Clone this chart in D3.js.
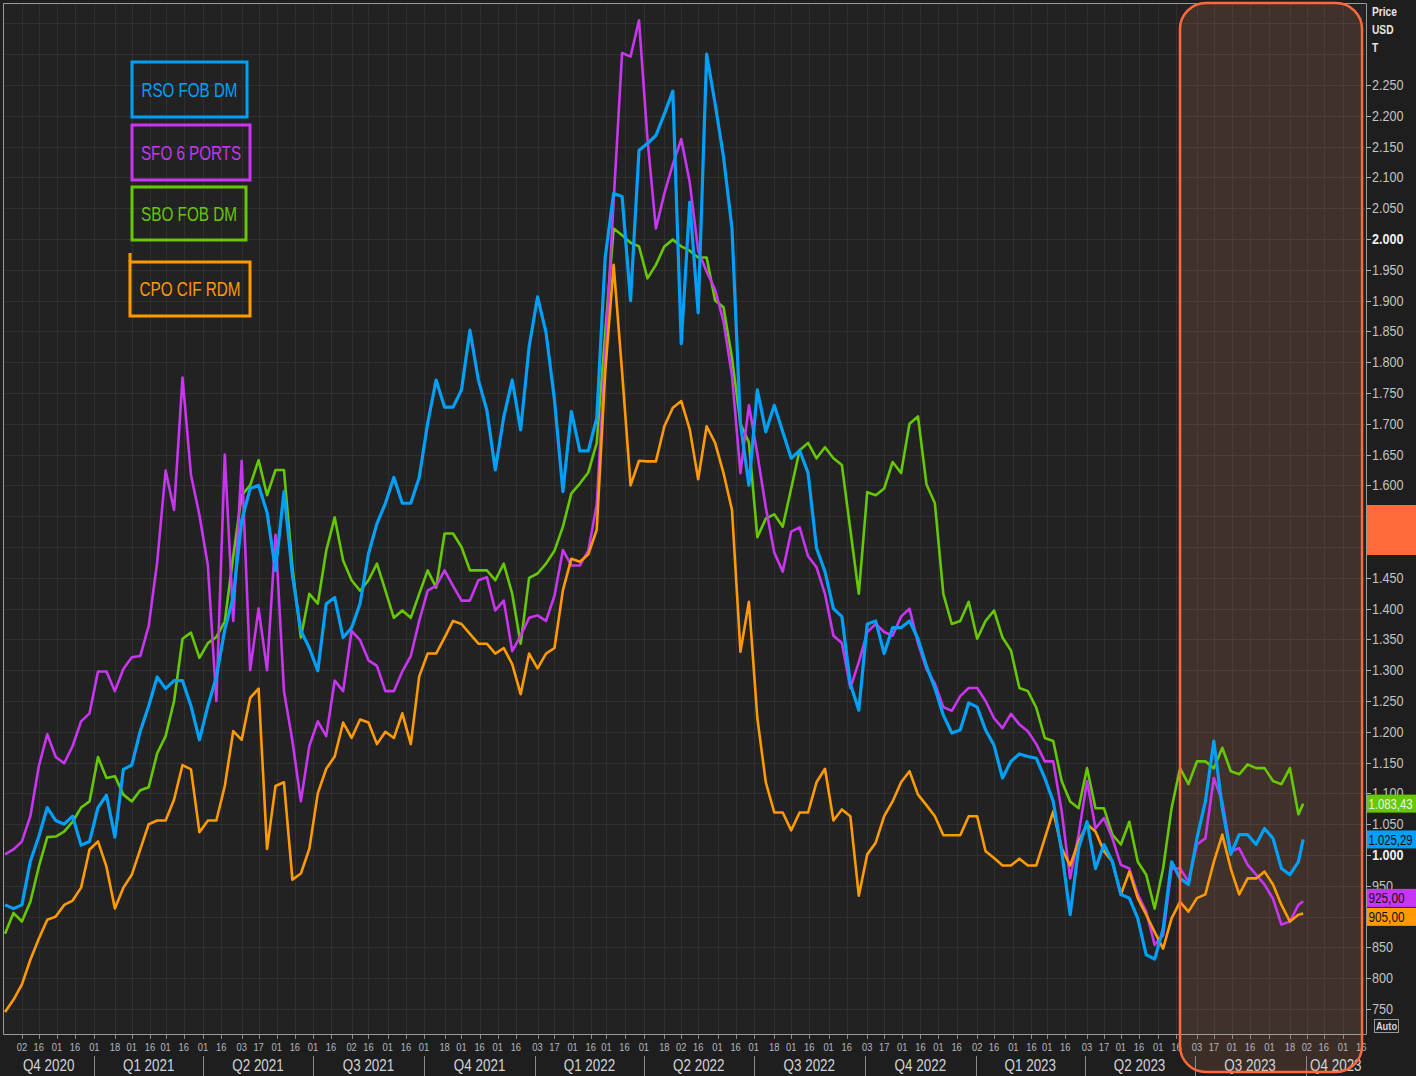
<!DOCTYPE html>
<html>
<head>
<meta charset="utf-8">
<script src="https://cdn.jsdelivr.net/npm/d3@7"></script>
<style>
	body { margin: 0; background: #1e1e1e; }
	svg { display: block; }
	text { font-family: "Liberation Sans", Arial, sans-serif; }
</style>
</head>
<body>
<svg id="chart"></svg>
<script>
// weekly samples (monday), last point is the close of 29 sep 2023
const weeks = [
	'2020-10-19','2020-10-26','2020-11-02','2020-11-09','2020-11-16','2020-11-23','2020-11-30','2020-12-07','2020-12-14','2020-12-21','2020-12-28',
	'2021-01-04','2021-01-11','2021-01-18','2021-01-25','2021-02-01','2021-02-08','2021-02-15','2021-02-22','2021-03-01','2021-03-08','2021-03-15','2021-03-22','2021-03-29',
	'2021-04-05','2021-04-12','2021-04-19','2021-04-26','2021-05-03','2021-05-10','2021-05-17','2021-05-24','2021-05-31','2021-06-07','2021-06-14','2021-06-21','2021-06-28',
	'2021-07-05','2021-07-12','2021-07-19','2021-07-26','2021-08-02','2021-08-09','2021-08-16','2021-08-23','2021-08-30','2021-09-06','2021-09-13','2021-09-20','2021-09-27',
	'2021-10-04','2021-10-11','2021-10-18','2021-10-25','2021-11-01','2021-11-08','2021-11-15','2021-11-22','2021-11-29','2021-12-06','2021-12-13','2021-12-20','2021-12-27',
	'2022-01-03','2022-01-10','2022-01-17','2022-01-24','2022-01-31','2022-02-07','2022-02-14','2022-02-21','2022-02-28','2022-03-07','2022-03-14','2022-03-21','2022-03-28',
	'2022-04-04','2022-04-11','2022-04-18','2022-04-25','2022-05-02','2022-05-09','2022-05-16','2022-05-23','2022-05-30','2022-06-06','2022-06-13','2022-06-20','2022-06-27',
	'2022-07-04','2022-07-11','2022-07-18','2022-07-25','2022-08-01','2022-08-08','2022-08-15','2022-08-22','2022-08-29','2022-09-05','2022-09-12','2022-09-19','2022-09-26',
	'2022-10-03','2022-10-10','2022-10-17','2022-10-24','2022-10-31','2022-11-07','2022-11-14','2022-11-21','2022-11-28','2022-12-05','2022-12-12','2022-12-19','2022-12-26',
	'2023-01-02','2023-01-09','2023-01-16','2023-01-23','2023-01-30','2023-02-06','2023-02-13','2023-02-20','2023-02-27','2023-03-06','2023-03-13','2023-03-20','2023-03-27',
	'2023-04-03','2023-04-10','2023-04-17','2023-04-24','2023-05-01','2023-05-08','2023-05-15','2023-05-22','2023-05-29','2023-06-05','2023-06-12','2023-06-19','2023-06-26',
	'2023-07-03','2023-07-10','2023-07-17','2023-07-24','2023-07-31','2023-08-07','2023-08-14','2023-08-21','2023-08-28','2023-09-04','2023-09-11','2023-09-18','2023-09-25','2023-09-29'
];

// USD / T
const rso = [
	919, 913, 919, 990, 1030, 1077, 1056, 1050, 1063, 1016, 1022,
	1077, 1097, 1029, 1139, 1146, 1201, 1242, 1289, 1270, 1283, 1283, 1242, 1187,
	1242, 1289, 1366, 1419, 1543, 1595, 1600, 1556, 1462, 1590, 1454, 1364, 1336,
	1299, 1408, 1418, 1353, 1369, 1408, 1489, 1538, 1571, 1613, 1571, 1571, 1613,
	1701, 1771, 1727, 1727, 1755, 1852, 1771, 1722, 1625, 1711, 1771, 1690, 1825,
	1906, 1848, 1739, 1590, 1720, 1656, 1656, 1709, 1970, 2074, 2069, 1900, 2144,
	2155, 2168, 2203, 2240, 1830, 2060, 1880, 2300, 2220, 2133, 2017, 1700, 1600,
	1755, 1687, 1730, 1687, 1644, 1657, 1620, 1498, 1460, 1400, 1387, 1278, 1235,
	1375, 1380, 1327, 1369, 1369, 1380, 1351, 1307, 1271, 1227, 1198, 1203, 1247,
	1240, 1203, 1178, 1125, 1152, 1164, 1160, 1157, 1125, 1087, 1006, 903, 1011,
	1054, 978, 1017, 989, 936, 930, 897, 838, 831, 880, 989, 962, 952,
	1027, 1087, 1185, 1076, 1001, 1033, 1033, 1017, 1043, 1027, 978, 968, 989, 1025.29
];
const sfo = [
	1001, 1009, 1022, 1063, 1144, 1196, 1159, 1149, 1177, 1217, 1230,
	1298, 1298, 1266, 1302, 1321, 1323, 1372, 1475, 1624, 1560, 1775, 1617, 1552,
	1470, 1250, 1650, 1380, 1640, 1300, 1400, 1300, 1520, 1266, 1185, 1087, 1177,
	1217, 1193, 1283, 1266, 1364, 1349, 1316, 1307, 1266, 1266, 1298, 1323, 1380,
	1429, 1437, 1462, 1437, 1413, 1413, 1446, 1451, 1397, 1413, 1331, 1356, 1385,
	1389, 1380, 1421, 1495, 1470, 1470, 1494, 1569, 1813, 2062, 2302, 2296, 2355,
	2162, 2017, 2074, 2121, 2162, 2092, 1981, 1947, 1918, 1866, 1778, 1620, 1730,
	1651, 1564, 1491, 1460, 1525, 1532, 1485, 1467, 1424, 1356, 1344, 1271, 1313,
	1362, 1375, 1362, 1356, 1387, 1400, 1344, 1302, 1278, 1240, 1234, 1258, 1271,
	1271, 1250, 1222, 1206, 1229, 1212, 1201, 1180, 1152, 1152, 1071, 962, 1033,
	1120, 1043, 1060, 1027, 984, 978, 936, 908, 854, 870, 978, 978, 957,
	1017, 1027, 1125, 1087, 1006, 1011, 984, 968, 952, 929, 887, 892, 919, 925
];
const sbo = [
	872, 906, 892, 924, 981, 1029, 1030, 1038, 1054, 1077, 1087,
	1159, 1125, 1128, 1098, 1087, 1105, 1110, 1165, 1193, 1250, 1351, 1361, 1320,
	1344, 1354, 1379, 1485, 1584, 1600, 1641, 1584, 1625, 1625, 1467, 1353, 1424,
	1408, 1494, 1548, 1478, 1446, 1429, 1446, 1473, 1429, 1385, 1397, 1385, 1424,
	1462, 1434, 1522, 1522, 1500, 1462, 1462, 1462, 1446, 1473, 1424, 1343, 1450,
	1457, 1473, 1494, 1533, 1587, 1603, 1621, 1669, 1848, 2017, 2006, 1994, 1988,
	1936, 1958, 1988, 1999, 1988, 1981, 1970, 1970, 1900, 1889, 1807, 1700, 1670,
	1516, 1546, 1553, 1533, 1595, 1657, 1669, 1644, 1662, 1644, 1633, 1528, 1424,
	1589, 1584, 1595, 1638, 1620, 1700, 1712, 1602, 1571, 1424, 1375, 1380, 1411,
	1351, 1380, 1397, 1353, 1332, 1271, 1266, 1239, 1190, 1185, 1120, 1087, 1076,
	1141, 1076, 1076, 1033, 1017, 1054, 989, 968, 913, 978, 1076, 1141, 1115,
	1152, 1152, 1141, 1174, 1136, 1131, 1147, 1141, 1141, 1120, 1115, 1141, 1066, 1083.43
];
const cpo = [
	745, 765, 790, 830, 864, 895, 900, 919, 926, 947, 1009,
	1022, 981, 913, 947, 968, 1009, 1050, 1056, 1056, 1090, 1146, 1139, 1037,
	1056, 1056, 1112, 1201, 1187, 1255, 1270, 1010, 1112, 1118, 960, 970, 1010,
	1100, 1140, 1160, 1215, 1190, 1220, 1215, 1180, 1200, 1190, 1230, 1180, 1290,
	1327, 1327, 1353, 1380, 1375, 1359, 1343, 1343, 1327, 1336, 1310, 1261, 1327,
	1303, 1327, 1336, 1430, 1481, 1476, 1488, 1528, 1784, 1958, 1784, 1600, 1640,
	1639, 1639, 1696, 1726, 1737, 1691, 1610, 1696, 1669, 1620, 1560, 1330, 1411,
	1222, 1118, 1069, 1069, 1040, 1069, 1069, 1118, 1140, 1056, 1074, 1063, 934,
	1001, 1020, 1063, 1087, 1118, 1136, 1098, 1081, 1063, 1032, 1032, 1032, 1063,
	1063, 1006, 995, 983, 983, 994, 983, 983, 1027, 1071, 1011, 983, 1022,
	1050, 1038, 1006, 989, 936, 973, 930, 903, 875, 848, 897, 924, 908,
	930, 936, 989, 1033, 978, 936, 962, 962, 973, 952, 919, 892, 903, 905
];

const names = ['RSO FOB DM', 'SFO 6 PORTS', 'SBO FOB DM', 'CPO CIF RDM'];
const colors = ['#00a0f8', '#c936f2', '#66c800', '#ff9a00'];

// date ticks on the time axis (first trading day on/after the 1st and 16th)
const tickDates = [
	'2020-11-02','2020-11-16','2020-12-01','2020-12-16',
	'2021-01-01','2021-01-18','2021-02-01','2021-02-16','2021-03-01','2021-03-16','2021-04-01','2021-04-16','2021-05-03','2021-05-17','2021-06-01','2021-06-16',
	'2021-07-01','2021-07-16','2021-08-02','2021-08-16','2021-09-01','2021-09-16','2021-10-01','2021-10-18','2021-11-01','2021-11-16','2021-12-01','2021-12-16',
	'2022-01-03','2022-01-17','2022-02-01','2022-02-16','2022-03-01','2022-03-16','2022-04-01','2022-04-18','2022-05-02','2022-05-16','2022-06-01','2022-06-16',
	'2022-07-01','2022-07-18','2022-08-01','2022-08-16','2022-09-01','2022-09-16','2022-10-03','2022-10-17','2022-11-01','2022-11-16','2022-12-01','2022-12-16',
	'2023-01-02','2023-01-16','2023-02-01','2023-02-16','2023-03-01','2023-03-16','2023-04-03','2023-04-17','2023-05-01','2023-05-16','2023-06-01','2023-06-16',
	'2023-07-03','2023-07-17','2023-08-01','2023-08-16','2023-09-01','2023-09-18','2023-10-02','2023-10-16','2023-11-01','2023-11-16'
];
const quarterStarts = ['2020-10-01','2021-01-01','2021-04-01','2021-07-01','2021-10-01','2022-01-01','2022-04-01','2022-07-01','2022-10-01','2023-01-01','2023-04-01','2023-07-01','2023-10-01','2024-01-01'];
const quarterLabels = ['Q4 2020','Q1 2021','Q2 2021','Q3 2021','Q4 2021','Q1 2022','Q2 2022','Q3 2022','Q4 2022','Q1 2023','Q2 2023','Q3 2023','Q4 2023'];
const priceTicks = d3.range(750, 2251, 50);

const width = 1416, height = 1076;
const plot = { left: 3, right: 1366, top: 3, bottom: 1034 };
const parse = d3.utcParse('%Y-%m-%d');
const locale = d3.formatLocale({ decimal: ',', thousands: '.', grouping: [3], currency: ['', ''] });
const fmt = locale.format(',.0f');
const fmtClose = locale.format(',.2f');

const x = d3.scaleUtc()
	.domain([parse('2020-10-19'), parse('2023-11-20')])
	.range([5, plot.right]);
const y = d3.scaleLinear()
	.domain([750, 2250])
	.range([1009, 85]);

const svg = d3.select('#chart')
	.attr('width', width)
	.attr('height', height)
	.style('background', '#1e1e1e');

svg.append('defs').append('clipPath')
	.attr('id', 'plot-clip')
	.append('rect')
	.attr('x', plot.left)
	.attr('y', plot.top)
	.attr('width', plot.right - plot.left)
	.attr('height', plot.bottom - plot.top);

svg.append('rect')
	.attr('x', plot.left)
	.attr('y', plot.top)
	.attr('width', plot.right - plot.left)
	.attr('height', plot.bottom - plot.top)
	.style('fill', '#222222');

// grid
const grid = svg.append('g').attr('clip-path', 'url(#plot-clip)');
grid.selectAll('line.h')
	.data(d3.range(750, 2401, 50))
	.join('line')
	.attr('class', 'h')
	.attr('x1', plot.left).attr('x2', plot.right)
	.attr('y1', d => Math.round(y(d)) + 0.5).attr('y2', d => Math.round(y(d)) + 0.5)
	.style('stroke', '#303030');
grid.selectAll('line.v')
	.data(tickDates.map(parse))
	.join('line')
	.attr('class', 'v')
	.attr('x1', d => Math.round(x(d)) + 0.5).attr('x2', d => Math.round(x(d)) + 0.5)
	.attr('y1', plot.top).attr('y2', plot.bottom)
	.style('stroke', '#303030');

// highlighted window (drawn under the lines)
const hl = { x: 1180, y: 3, w: 182, h: 1069 };
svg.append('rect')
	.attr('x', hl.x).attr('y', hl.y)
	.attr('width', hl.w).attr('height', hl.h)
	.attr('rx', 26)
	.style('fill', 'rgba(255,140,100,0.14)');

// series
const series = [rso, sfo, sbo, cpo].map((vals, i) => ({
	name: names[i],
	color: colors[i],
	values: vals.map((v, j) => ({ date: parse(weeks[j]), value: v })),
}));
const line = d3.line()
	.x(d => x(d.date))
	.y(d => y(d.value));

svg.append('g')
	.attr('clip-path', 'url(#plot-clip)')
	.selectAll('path')
	.data([series[2], series[1], series[3], series[0]])
	.join('path')
	.attr('d', d => line(d.values))
	.style('fill', 'none')
	.style('stroke', d => d.color)
	.style('stroke-width', d => d.name === 'RSO FOB DM' ? 3.2 : 2.6)
	.style('stroke-linejoin', 'round');

// frame
svg.append('path')
	.attr('d', `M${plot.left + 0.5},${plot.bottom + 0.5}V${plot.top + 0.5}H${plot.right + 0.5}V${plot.bottom + 0.5}H${plot.left + 0.5}`)
	.style('fill', 'none')
	.style('stroke', '#9a9a9a');

// time axis
const xAxis = svg.append('g');
xAxis.selectAll('line.tick')
	.data(tickDates.map(parse))
	.join('line')
	.attr('class', 'tick')
	.attr('x1', d => Math.round(x(d)) + 0.5).attr('x2', d => Math.round(x(d)) + 0.5)
	.attr('y1', plot.bottom + 1).attr('y2', plot.bottom + 5)
	.style('stroke', '#8a8a8a');
xAxis.selectAll('text.day')
	.data(tickDates.map(parse).filter(d => x(d) < plot.right - 4))
	.join('text')
	.attr('class', 'day')
	.attr('transform', d => `translate(${x(d)},1051) scale(0.85,1)`)
	.attr('text-anchor', 'middle')
	.style('font-size', '11px')
	.style('fill', '#b4b8c0')
	.text(d3.utcFormat('%d'));
const quarters = quarterLabels.map((label, i) => ({
	label,
	x0: Math.max(plot.left, x(parse(quarterStarts[i]))),
	x1: Math.min(plot.right, x(parse(quarterStarts[i + 1]))),
}));
xAxis.selectAll('line.q')
	.data(quarters.slice(1))
	.join('line')
	.attr('class', 'q')
	.attr('x1', d => Math.round(d.x0) + 0.5).attr('x2', d => Math.round(d.x0) + 0.5)
	.attr('y1', 1056).attr('y2', 1076)
	.style('stroke', '#8a8a8a');
xAxis.selectAll('text.q')
	.data(quarters)
	.join('text')
	.attr('class', 'q')
	.attr('transform', d => `translate(${(d.x0 + d.x1) / 2},1071) scale(0.84,1)`)
	.attr('text-anchor', 'middle')
	.style('font-size', '16px')
	.style('fill', '#d2d4d8')
	.text(d => d.label);

// last value boxes, pushed apart when they collide
const lastBoxes = series.map(s => {
	const last = s.values[s.values.length - 1].value;
	return { text: fmtClose(last), color: s.color, y: y(last), light: s.name === 'SBO FOB DM' };
}).sort((a, b) => a.y - b.y);
for (let i = 1; i < lastBoxes.length; i++) {
	if (lastBoxes[i].y - lastBoxes[i - 1].y < 19) {
		const mid = (lastBoxes[i].y + lastBoxes[i - 1].y) / 2;
		lastBoxes[i - 1].y = mid - 9.5;
		lastBoxes[i].y = mid + 9.5;
	}
}

// price axis (a label sitting right under a value box is hidden by it)
const shownTicks = priceTicks.filter(v => !lastBoxes.some(b => Math.abs(b.y - y(v)) < 6));
const yAxis = svg.append('g');
yAxis.selectAll('line')
	.data(priceTicks)
	.join('line')
	.attr('x1', plot.right + 1).attr('x2', plot.right + 5)
	.attr('y1', d => Math.round(y(d)) + 0.5).attr('y2', d => Math.round(y(d)) + 0.5)
	.style('stroke', '#b4b4b4');
yAxis.selectAll('text')
	.data(shownTicks)
	.join('text')
	.attr('transform', d => `translate(${plot.right + 6},${y(d) + 5}) scale(0.9,1)`)
	.style('font-size', '14px')
	.style('font-weight', d => d % 1000 === 0 ? 'bold' : 'normal')
	.style('fill', d => d % 1000 === 0 ? '#f0f0f0' : '#c4c4c4')
	.text(d => fmt(d));
yAxis.selectAll('text.unit')
	.data(['Price', 'USD', 'T'])
	.join('text')
	.attr('class', 'unit')
	.attr('transform', (d, i) => `translate(${plot.right + 6},${16 + i * 18}) scale(0.85,1)`)
	.style('font-size', '12px')
	.style('font-weight', 'bold')
	.style('fill', '#e6e6e6')
	.text(d => d);

// orange marker on the axis
svg.append('rect')
	.attr('x', plot.right + 1).attr('y', 505)
	.attr('width', width - plot.right).attr('height', 50)
	.style('fill', '#ff6a3a');

const boxes = svg.append('g').selectAll('g')
	.data(lastBoxes)
	.join('g')
	.attr('transform', d => `translate(${plot.right + 1},${d.y - 9})`);
boxes.append('rect')
	.attr('width', width - plot.right)
	.attr('height', 18)
	.style('fill', d => d.color);
// squeeze the close labels so they fit inside the box
boxes.append('text')
	.style('font-size', '15px')
	.style('fill', d => d.light ? '#eef6e4' : '#101010')
	.text(d => d.text)
	.attr('transform', function (d) {
		const target = d.text.length > 6 ? 44 : 36;
		const k = target / this.getComputedTextLength();
		return `translate(1.5,14.5) scale(${k},1)`;
	});

// "Auto" button
svg.append('rect')
	.attr('x', 1374.5).attr('y', 1019.5)
	.attr('width', 24).attr('height', 13)
	.style('fill', 'none')
	.style('stroke', '#9a9a9a');
svg.append('text')
	.attr('transform', 'translate(1386.5,1030) scale(0.85,1)')
	.attr('text-anchor', 'middle')
	.style('font-size', '11px')
	.style('font-weight', 'bold')
	.style('fill', '#d8d8d8')
	.text('Auto');

// highlight outline on top
svg.append('rect')
	.attr('x', hl.x).attr('y', hl.y)
	.attr('width', hl.w).attr('height', hl.h)
	.attr('rx', 26)
	.style('fill', 'none')
	.style('stroke', '#ff6a3d')
	.style('stroke-width', 2.5);

// legend boxes
const legendBoxes = [
	{ x: 132, y: 62, w: 115, h: 55, tw: 96 },
	{ x: 132, y: 125, w: 118, h: 55, tw: 100 },
	{ x: 132, y: 187, w: 114, h: 53, tw: 96 },
	{ x: 130, y: 262, w: 120, h: 54, tw: 101 },
];
const legend = svg.append('g').selectAll('g')
	.data(series)
	.join('g')
	.attr('transform', (d, i) => `translate(${legendBoxes[i].x},${legendBoxes[i].y})`);
legend.append('rect')
	.attr('width', (d, i) => legendBoxes[i].w)
	.attr('height', (d, i) => legendBoxes[i].h)
	.style('fill', 'none')
	.style('stroke', d => d.color)
	.style('stroke-width', 3);
legend.append('text')
	.attr('x', (d, i) => (legendBoxes[i].w - legendBoxes[i].tw) / 2)
	.attr('y', (d, i) => legendBoxes[i].h / 2 + 7)
	.attr('textLength', (d, i) => legendBoxes[i].tw)
	.attr('lengthAdjust', 'spacingAndGlyphs')
	.style('font-size', '20px')
	.style('fill', d => d.color)
	.text(d => d.name);
// little stub left on the orange box
svg.append('line')
	.attr('x1', 130).attr('x2', 130)
	.attr('y1', 253).attr('y2', 262)
	.style('stroke', colors[3])
	.style('stroke-width', 3);
</script>
</body>
</html>
